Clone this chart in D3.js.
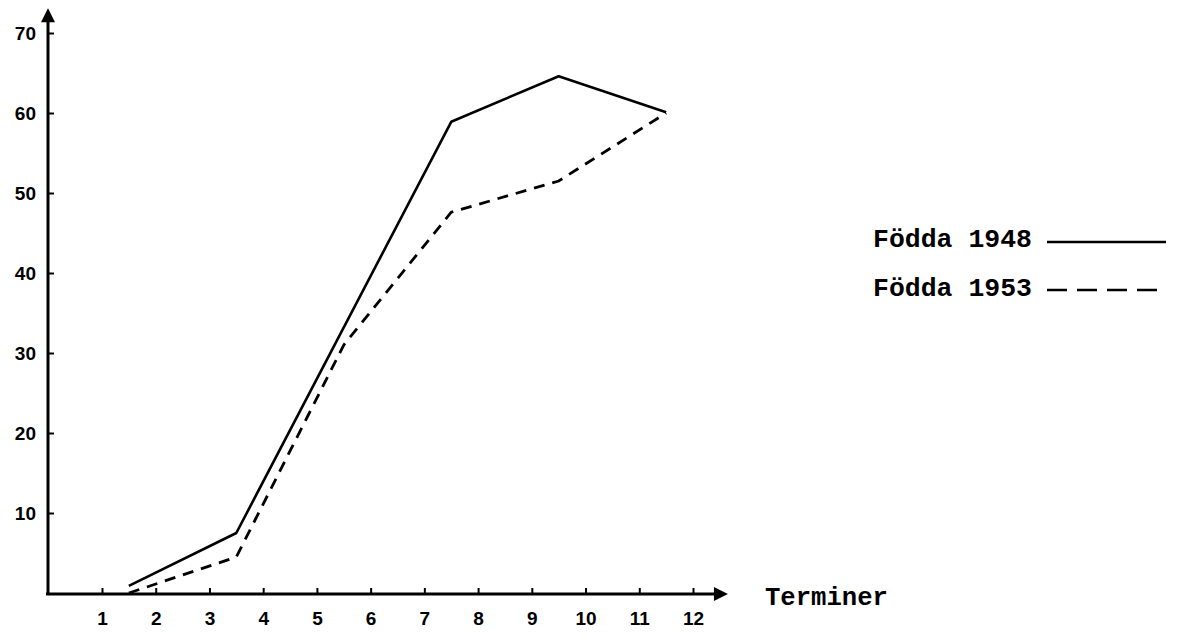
<!DOCTYPE html>
<html>
<head>
<meta charset="utf-8">
<script src="https://cdn.jsdelivr.net/npm/d3@7"></script>
<style>
  html, body { margin: 0; padding: 0; background: #fff; }
  svg { display: block; }
</style>
</head>
<body>
<svg id="chart" width="1181" height="641"></svg>
<script>
// ---- data ----
const terms = [1.5, 3.5, 5.5, 7.5, 9.5, 11.5];
const born1948 = [0.9, 7.5, 33.2, 58.9, 64.6, 60.1];
const born1953 = [0, 4.5, 31.0, 47.6, 51.5, 60.0];
const seriesNames = ["Födda 1948", "Födda 1953"];
const xTicks = [1, 2, 3, 4, 5, 6, 7, 8, 9, 10, 11, 12];
const yTicks = [10, 20, 30, 40, 50, 60, 70];
const xTitle = "Terminer";

// ---- layout ----
const svg = d3.select("#chart");
const x = d3.scaleLinear().domain([1, 12]).range([102, 693]);
const y = d3.scaleLinear().domain([0, 70]).range([593, 33]);
const xAxisEnd = 12.65, yAxisEnd = 73.1;
const ink = "#000";
const tickFont = "'Liberation Sans', Arial, sans-serif";
const monoFont = "'Liberation Mono', 'Courier New', monospace";

// data lines (solid 1948 runs straight between 3.5 and 7.5)
const solidPts = terms.map((t, i) => [t, born1948[i]]).filter((d, i) => i !== 2);
const dashPts = terms.map((t, i) => [t, born1953[i]]);
const line = d3.line().x(d => x(d[0])).y(d => y(d[1]));

svg.append("path").datum(solidPts).attr("d", line)
  .attr("fill", "none").attr("stroke", ink).attr("stroke-width", 2.6)
  .attr("stroke-linejoin", "round");
svg.append("path").datum(dashPts).attr("d", line)
  .attr("fill", "none").attr("stroke", ink).attr("stroke-width", 2.8)
  .attr("stroke-dasharray", "11,8");

// y axis
const yAxis = d3.axisLeft(y).tickValues(yTicks).tickSizeInner(-6).tickSizeOuter(0).tickPadding(12);
const gy = svg.append("g").attr("transform", `translate(48,0)`).call(yAxis);
gy.select(".domain").remove();
gy.selectAll(".tick line").attr("stroke", ink).attr("stroke-width", 2);
gy.selectAll(".tick text").attr("fill", ink).attr("font-family", tickFont)
  .attr("font-weight", "bold").attr("font-size", 19);
svg.append("line").attr("x1", 48).attr("x2", 48).attr("y1", y(0) + 2).attr("y2", y(yAxisEnd) + 8)
  .attr("stroke", ink).attr("stroke-width", 3);
svg.append("path")
  .attr("d", `M48,${y(yAxisEnd)} L55,${y(yAxisEnd) + 14} L41,${y(yAxisEnd) + 14} Z`)
  .attr("fill", ink);

// x axis
const xAxis = d3.axisBottom(x).tickValues(xTicks).tickSizeInner(-6).tickSizeOuter(0).tickPadding(18);
const gx = svg.append("g").attr("transform", `translate(0,${y(0) + 1})`).call(xAxis);
gx.select(".domain").remove();
gx.selectAll(".tick line").attr("stroke", ink).attr("stroke-width", 2);
gx.selectAll(".tick text").attr("fill", ink).attr("font-family", tickFont)
  .attr("font-weight", "bold").attr("font-size", 19);
svg.append("line").attr("x1", 46).attr("x2", x(xAxisEnd) - 8).attr("y1", y(0) + 1).attr("y2", y(0) + 1)
  .attr("stroke", ink).attr("stroke-width", 3);
svg.append("path")
  .attr("d", `M${x(xAxisEnd)},${y(0) + 1} L${x(xAxisEnd) - 14},${y(0) - 6} L${x(xAxisEnd) - 14},${y(0) + 8} Z`)
  .attr("fill", ink);

svg.append("text").attr("x", 765).attr("y", 605).text(xTitle)
  .attr("font-family", monoFont).attr("font-weight", "bold").attr("font-size", 25)
  .attr("textLength", 123).attr("lengthAdjust", "spacingAndGlyphs").attr("fill", ink);

// legend
const legendRows = [
  { name: seriesNames[0], dash: null, ty: 247, ly: 242 },
  { name: seriesNames[1], dash: "20,10", ty: 296, ly: 290 }
];
legendRows.forEach(r => {
  svg.append("text").attr("x", 873).attr("y", r.ty).text(r.name)
    .attr("font-family", monoFont).attr("font-weight", "bold").attr("font-size", 25)
    .attr("textLength", 159).attr("lengthAdjust", "spacingAndGlyphs").attr("fill", ink);
  svg.append("line").attr("x1", 1047).attr("x2", 1166).attr("y1", r.ly).attr("y2", r.ly)
    .attr("stroke", ink).attr("stroke-width", 2.4)
    .attr("stroke-dasharray", r.dash);
});
</script>
</body>
</html>
